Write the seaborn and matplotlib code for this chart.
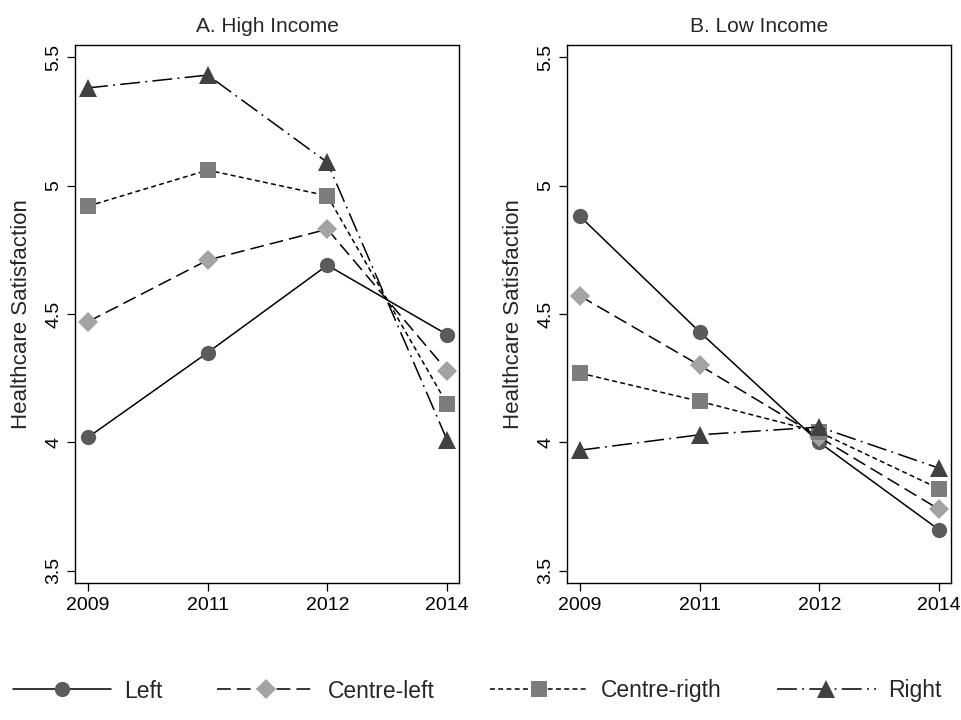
import matplotlib
matplotlib.use("Agg")
import matplotlib.pyplot as plt
import numpy as np
import pandas as pd
import seaborn as sns

# Survey years (shown as evenly spaced categories)
years = ["2009", "2011", "2012", "2014"]
parties = ["Left", "Centre-left", "Centre-rigth", "Right"]
panels = ["A. High Income", "B. Low Income"]

# Mean healthcare satisfaction, high-income respondents
high_left = [4.02, 4.35, 4.69, 4.42]
high_centre_left = [4.47, 4.71, 4.83, 4.28]
high_centre_right = [4.92, 5.06, 4.96, 4.15]
high_right = [5.38, 5.43, 5.09, 4.01]

# Mean healthcare satisfaction, low-income respondents
low_left = [4.88, 4.43, 4.00, 3.66]
low_centre_left = [4.57, 4.30, 4.02, 3.74]
low_centre_right = [4.27, 4.16, 4.04, 3.82]
low_right = [3.97, 4.03, 4.06, 3.90]

y_ticks = [3.5, 4, 4.5, 5, 5.5]
y_tick_labels = ["3.5", "4", "4.5", "5", "5.5"]

series = {
    panels[0]: [high_left, high_centre_left, high_centre_right, high_right],
    panels[1]: [low_left, low_centre_left, low_centre_right, low_right],
}

rows = []
for panel, values_list in series.items():
    for party, values in zip(parties, values_list):
        for i, (yr, v) in enumerate(zip(years, values)):
            rows.append({"panel": panel, "party": party, "pos": i, "year": yr, "value": v})
df = pd.DataFrame(rows)

styles = {
    "Left": dict(marker="o", ms=11, mfc="#5b5b5b", ls="-"),
    "Centre-left": dict(marker="D", ms=10, mfc="#a3a3a3", ls=(0, (9, 4))),
    "Centre-rigth": dict(marker="s", ms=11, mfc="#7d7d7d", ls=(0, (3.2, 2.2))),
    "Right": dict(marker="^", ms=12.5, mfc="#414141", ls=(0, (13, 3.5, 1.2, 3.5))),
}

sns.set_theme(style="white")
plt.rcParams["font.family"] = ["Liberation Sans", "DejaVu Sans"]

fig = plt.figure(figsize=(9.62, 7.2), dpi=100)
ax_left = fig.add_axes([75 / 962, 1 - 583 / 720, 384 / 962, 538 / 720])
ax_right = fig.add_axes([567 / 962, 1 - 583 / 720, 384 / 962, 538 / 720])

handles = []
for ax, panel in zip([ax_left, ax_right], panels):
    sub = df[df["panel"] == panel]
    for party in parties:
        st = styles[party]
        d = sub[sub["party"] == party]
        n_before = len(ax.lines)
        sns.lineplot(data=d, x="pos", y="value", ax=ax, color="black",
                     linewidth=1.1, marker=st["marker"], markersize=st["ms"],
                     markerfacecolor=st["mfc"], markeredgecolor=st["mfc"],
                     markeredgewidth=0, legend=False)
        line = ax.lines[n_before]
        line.set_linestyle(st["ls"])
        line.set_markerfacecolor(st["mfc"])
        line.set_markeredgecolor(st["mfc"])
        if ax is ax_left:
            handles.append(line)

    ax.set_xlim(-0.109, 3.1)
    ax.set_ylim(3.453, 5.547)
    ax.set_xticks(range(len(years)))
    ax.set_xticklabels(years)
    ax.set_yticks(y_ticks)
    ax.set_yticklabels(y_tick_labels, rotation=90, va="center")
    ax.set_xlabel("")
    ax.set_ylabel("Healthcare Satisfaction", fontsize=16)
    ax.yaxis.set_label_coords(-0.112, 0.5)
    ax.set_title(panel, fontsize=15, pad=9)
    ax.tick_params(axis="both", which="major", direction="out", length=6,
                   width=0.9, colors="black", labelsize=14, left=True, bottom=True,
                   top=False, right=False)
    ax.tick_params(axis="y", pad=3)
    ax.tick_params(axis="x", pad=4)
    for sp in ax.spines.values():
        sp.set_color("black")
        sp.set_linewidth(1.0)
    ax.grid(False)
    ax.set_facecolor("white")

fig.legend(handles, parties, loc="center", bbox_to_anchor=(0.496, 1 - 691 / 720),
           ncol=4, frameon=False, fontsize=16.5, handlelength=4.3,
           handletextpad=0.55, columnspacing=2.4, numpoints=1)

fig.savefig("out.png", dpi=100, facecolor="white")
